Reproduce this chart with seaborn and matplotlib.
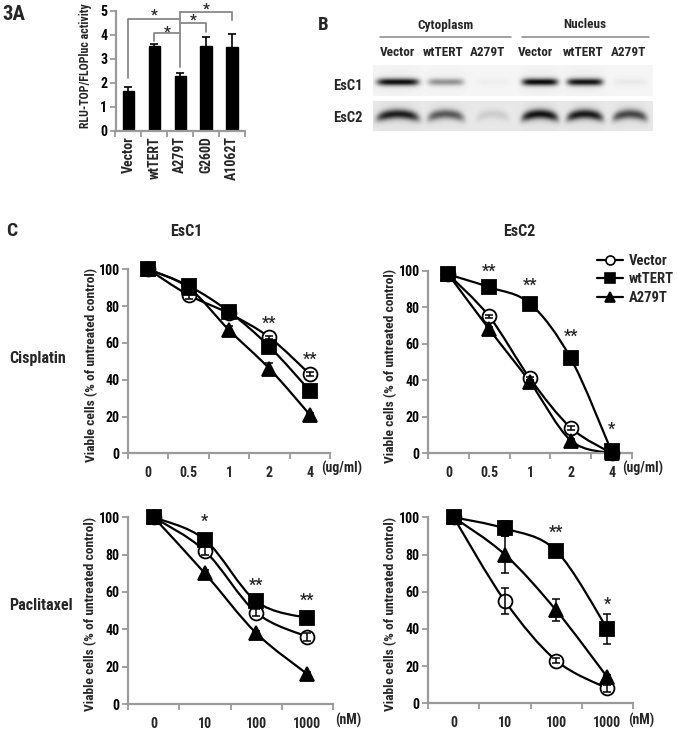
import numpy as np
import pandas as pd
import matplotlib
matplotlib.use("Agg")
import matplotlib.pyplot as plt
import seaborn as sns
from matplotlib.lines import Line2D
from matplotlib.path import Path
from matplotlib.patches import PathPatch
from matplotlib import font_manager as fm

# ---------------- data ----------------
# Panel A
a_groups = ["Vector", "wtTERT", "A279T", "G260D", "A1062T"]
a_values = [1.65, 3.52, 2.27, 3.52, 3.50]
a_errors = [0.17, 0.11, 0.12, 0.38, 0.53]

# Panel B (western blot band intensities, 0..1)
blot_lanes = ["Vector", "wtTERT", "A279T", "Vector", "wtTERT", "A279T"]
blot_fractions = ["Cytoplasm", "Nucleus"]
blot_rows = ["EsC1", "EsC2"]
esc1_bands = [0.95, 0.40, 0.03, 0.97, 0.93, 0.05]
esc2_bands = [0.88, 0.62, 0.12, 0.93, 0.90, 0.70]

# Panel C
series_names = ["Vector", "wtTERT", "A279T"]
cis_doses = ["0", "0.5", "1", "2", "4"]
pac_doses = ["0", "10", "100", "1000"]

cis_esc1_vector = [100, 86, 76, 63, 43]
cis_esc1_wttert = [100, 91, 77, 58, 34]
cis_esc1_a279t = [100, 90, 67, 46, 21]
cis_esc1_vector_err = [0, 2, 1, 1, 1]
cis_esc1_wttert_err = [0, 1, 1, 2, 1]
cis_esc1_a279t_err = [0, 1, 2, 3, 1]

cis_esc2_vector = [98, 75, 41, 14, 0]
cis_esc2_wttert = [98, 91, 82, 52, 1]
cis_esc2_a279t = [98, 68, 39, 7, 0]
cis_esc2_vector_err = [0, 1, 1, 1, 0]
cis_esc2_wttert_err = [0, 1, 1, 1, 0]
cis_esc2_a279t_err = [0, 1, 1, 1, 0]

pac_esc1_vector = [100, 82, 49, 36]
pac_esc1_wttert = [100, 88, 55, 46]
pac_esc1_a279t = [100, 70, 38, 16]
pac_esc1_vector_err = [0, 2, 2, 2]
pac_esc1_wttert_err = [0, 1, 1, 1]
pac_esc1_a279t_err = [0, 2, 1, 1]

pac_esc2_vector = [100, 55, 23, 8]
pac_esc2_wttert = [100, 94, 82, 40]
pac_esc2_a279t = [100, 80, 50, 14]
pac_esc2_vector_err = [0, 7, 1.5, 2]
pac_esc2_wttert_err = [0, 4, 1, 8]
pac_esc2_a279t_err = [0, 10, 6, 1]

# significance marks: (category index, value, text)
cis_esc1_sig = [(3, 73, "**"), (4, 53, "**")]
cis_esc2_sig = [(1, 102, "**"), (2, 94, "**"), (3, 66, "**"), (4, 15, "*")]
pac_esc1_sig = [(1, 100, "*"), (2, 65.5, "**"), (3, 57.5, "**")]
pac_esc2_sig = [(2, 94, "**"), (3, 55.5, "*")]

# ---------------- style ----------------
sns.set_theme(style="ticks")

# pick a condensed bold sans if one is installed
fam = "Liberation Sans"
stretch = "normal"
narrow = False
names = {f.name for f in fm.fontManager.ttflist}
for cand in ["Liberation Sans Narrow", "Arial Narrow", "Roboto Condensed",
             "Open Sans Condensed", "Noto Sans Condensed", "DejaVu Sans Condensed"]:
    if cand in names:
        fam = cand
        narrow = True
        break
if not narrow:
    for f in fm.fontManager.ttflist:
        st = f.stretch
        if isinstance(st, str):
            st = {"condensed": 300, "semi-condensed": 400, "extra-condensed": 200}.get(st, 500)
        if f.name in ("Noto Sans", "Open Sans", "Roboto", "DejaVu Sans") and st <= 400:
            fam = f.name
            stretch = "condensed"
            narrow = True
            break

plt.rcParams["font.family"] = [fam, "Liberation Sans", "DejaVu Sans"]
plt.rcParams["font.stretch"] = stretch
plt.rcParams["font.weight"] = "bold"
plt.rcParams["axes.labelweight"] = "bold"
S = 1.0 if narrow else 0.86  # size factor to keep text widths like the reference

W, H = 677, 729
fig = plt.figure(figsize=(W / 100, H / 100), dpi=100)
fig.patch.set_facecolor("white")


def fx(px):
    return px / W


def fy(py):
    return 1 - py / H


GRAY = "#9a9a9a"


def style_axes(ax, n):
    for s in ["top", "right"]:
        ax.spines[s].set_visible(False)
    for s in ["left", "bottom"]:
        ax.spines[s].set_color(GRAY)
        ax.spines[s].set_linewidth(1.6)
    ax.set_xlim(-0.5, n - 0.5)
    ax.set_xticks(np.arange(n))
    ax.set_xticks(np.arange(-0.5, n), minor=True)
    ax.tick_params(axis="x", which="major", length=0)
    ax.tick_params(axis="x", which="minor", length=4, width=1.3, color=GRAY, direction="out")
    ax.tick_params(axis="y", which="major", length=4, width=1.3, color=GRAY, direction="out",
                   pad=2, left=True, labelleft=True, labelcolor="black")
    ax.set_facecolor("white")


# ---------------- Panel A ----------------
axA = fig.add_axes([fx(115.5), fy(130.5), (245 - 115.5) / W, (130.5 - 11) / H])
dfA = pd.DataFrame({"group": a_groups, "value": a_values})
sns.barplot(data=dfA, x="group", y="value", ax=axA, color="black", width=0.44,
            errorbar=None, saturation=1, edgecolor="black")
axA.errorbar(np.arange(len(a_groups)), a_values, yerr=a_errors, fmt="none",
             ecolor="black", elinewidth=1.2, capsize=3, capthick=1.2)
style_axes(axA, len(a_groups))
axA.set_ylim(0, 5)
axA.set_yticks(range(0, 6), labels=[str(v) for v in range(0, 6)],
               fontsize=10 * S, fontweight="bold")
axA.set_xticks(np.arange(len(a_groups)), labels=a_groups, rotation=90,
               fontsize=10 * S, fontweight="bold")
axA.tick_params(axis="x", which="major", pad=4)
axA.set_xlabel("")
axA.set_ylabel("RLU-TOP/FLOPluc activity", fontsize=8.6 * S, fontweight="bold")
axA.yaxis.set_label_coords(-0.18, 0.54)

# significance brackets (group index pairs and heights)
br_kw = dict(color="#888888", lw=1.3, clip_on=False)
axA.plot([0, 0, 2], [2.18, 4.66, 4.66], **br_kw)
axA.plot([2, 2], [2.64, 4.94], **br_kw)
axA.plot([1, 1, 2], [3.75, 4.06, 4.06], **br_kw)
axA.plot([2, 3, 3], [4.48, 4.48, 4.14], **br_kw)
axA.plot([2, 4, 4], [4.94, 4.94, 4.64], **br_kw)
for xs_, ys_ in [(1.0, 4.94), (1.5, 4.26), (2.5, 4.73), (3.0, 5.22)]:
    axA.annotate("*", xy=(xs_, ys_), xytext=(0, -5.5), textcoords="offset points",
                 ha="center", va="baseline", fontsize=11, fontweight="bold",
                 annotation_clip=False)

fig.text(fx(2), fy(15), "3A", fontsize=15 * S, fontweight="bold", ha="left", va="center")

# ---------------- Panel B (blot) ----------------
fig.text(fx(323), fy(25), "B", fontsize=13.5, fontweight="bold", ha="center", va="center")
frac_centers = [445, 585]
frac_spans = [(380, 511), (522, 649)]
for name, c, (a, b) in zip(blot_fractions, frac_centers, frac_spans):
    fig.text(fx(c), fy(25), name, fontsize=9.5 * S, fontweight="bold", ha="center", va="center")
    fig.add_artist(Line2D([fx(a), fx(b)], [fy(37), fy(37)], color="#888888", lw=1.1))
lane_label_x = [397, 443, 488, 535, 583, 629]
for name, lx in zip(blot_lanes, lane_label_x):
    fig.text(fx(lx), fy(52), name, fontsize=9.5 * S, fontweight="bold", ha="center", va="center")
for name, ly in zip(blot_rows, [86, 118]):
    fig.text(fx(348), fy(ly), name, fontsize=10.5 * S, fontweight="bold", ha="center", va="center")

axB = fig.add_axes([fx(373), fy(131), (653 - 373) / W, (131 - 64) / H])
axB.set_xlim(373, 653)
axB.set_ylim(131, 64)
axB.axis("off")
lane_centers = [398, 446, 493, 540, 585, 630]
lane_halfw = [21, 18, 16, 18, 18, 17]
xs = np.arange(373, 653) + 0.5


def blot_row(bands, y0, y1, yc, thick, bg, curve):
    ys = np.arange(y0, y1) + 0.5
    X, Y = np.meshgrid(xs, ys)
    img = np.full(X.shape, bg)
    for c, hw, inten in zip(lane_centers, lane_halfw, bands):
        u = (X - c) / hw
        horiz = np.exp(-np.abs(u) ** 6)
        center = yc + curve * u ** 2
        vert = np.exp(-((Y - center) / thick) ** 2)
        img = img - inten * horiz * vert * (bg - 0.06)
        img = img - 0.05 * inten * np.exp(-np.abs(u) ** 4) * np.exp(-((Y - center) / (thick * 3)) ** 2)
    return np.clip(img, 0, 1)


row1 = blot_row(esc1_bands, 65, 96, 82, 3.6, 0.96, 0.0)
row2 = blot_row(esc2_bands, 101, 131, 114, 4.8, 0.91, 4.0)
axB.imshow(row1, cmap="gray", vmin=0, vmax=1, extent=[373, 653, 96, 65], aspect="auto",
           interpolation="bilinear")
axB.imshow(row2, cmap="gray", vmin=0, vmax=1, extent=[373, 653, 131, 101], aspect="auto",
           interpolation="bilinear")

# ---------------- Panel C ----------------
fig.text(fx(12), fy(231), "C", fontsize=14, fontweight="bold", ha="center", va="center")
fig.text(fx(186), fy(232), "EsC1", fontsize=11.5 * S, fontweight="bold", ha="center", va="center")
fig.text(fx(519), fy(232), "EsC2", fontsize=11.5 * S, fontweight="bold", ha="center", va="center")
fig.text(fx(9), fy(358), "Cisplatin", fontsize=11.5 * S, fontweight="bold", ha="left", va="center")
fig.text(fx(9), fy(606), "Paclitaxel", fontsize=11.5 * S, fontweight="bold", ha="left", va="center")

marker_styles = {
    "Vector": dict(marker="o", markerfacecolor="white"),
    "wtTERT": dict(marker="s", markerfacecolor="black"),
    "A279T": dict(marker="^", markerfacecolor="black"),
}
draw_order = ["Vector", "A279T", "wtTERT"]


def smooth_path(x, y):
    """Excel-style smoothed connector: cubic Bezier segments through the data points."""
    p = np.column_stack([x, y]).astype(float)
    ext = np.vstack([p[0], p, p[-1]])
    verts = [tuple(p[0])]
    codes = [Path.MOVETO]
    for i in range(len(p) - 1):
        p0, p1, p2, p3 = ext[i], ext[i + 1], ext[i + 2], ext[i + 3]
        c1 = p1 + (p2 - p0) / 6.0
        c2 = p2 - (p3 - p1) / 6.0
        verts += [tuple(c1), tuple(c2), tuple(p2)]
        codes += [Path.CURVE4] * 3
    return Path(verts, codes)


def line_panel(rect, doses, vals, errs, sig, unit, unit_px):
    ax = fig.add_axes(rect)
    n = len(doses)
    x = np.arange(n)
    for k, name in enumerate(draw_order):
        ms = marker_styles[name]
        ax.add_patch(PathPatch(smooth_path(x, vals[name]), facecolor="none", edgecolor="black",
                               lw=1.6, clip_on=False, zorder=2 + k * 0.1))
        sns.lineplot(x=x, y=vals[name], ax=ax, color="black", linestyle="none",
                     marker=ms["marker"], markersize=10 if ms["marker"] != "^" else 10.5,
                     markerfacecolor=ms["markerfacecolor"], markeredgecolor="black",
                     markeredgewidth=1.3, clip_on=False, errorbar=None, sort=False,
                     zorder=3 + k * 0.1)
        ax.errorbar(x, vals[name], yerr=errs[name], fmt="none", ecolor="black",
                    elinewidth=1.1, capsize=3, capthick=1.1, clip_on=False, zorder=3.5)
    style_axes(ax, n)
    ax.set_ylim(0, 100)
    ax.set_yticks(range(0, 101, 20), labels=[str(v) for v in range(0, 101, 20)],
                  fontsize=10 * S, fontweight="bold")
    ax.set_xticks(x, labels=doses, fontsize=10 * S, fontweight="bold")
    ax.tick_params(axis="x", which="major", pad=9)
    ax.set_xlabel("")
    ax.set_ylabel("Viable cells (% of untreated control)", fontsize=9.7 * S, fontweight="bold")
    ax.yaxis.set_label_coords(-0.15, 0.48)
    for xi, yv, s in sig:
        ax.annotate(s, xy=(xi, yv), xytext=(0, -6), textcoords="offset points",
                    ha="center", va="baseline", fontsize=11.5, fontweight="bold",
                    annotation_clip=False)
    fig.text(fx(unit_px[0]), fy(unit_px[1]), unit, fontsize=10 * S, fontweight="bold",
             ha="center", va="center")
    return ax


ax1 = line_panel([fx(128), fy(453.3), (330 - 128) / W, (453.3 - 269.3) / H], cis_doses,
                 {"Vector": cis_esc1_vector, "wtTERT": cis_esc1_wttert, "A279T": cis_esc1_a279t},
                 {"Vector": cis_esc1_vector_err, "wtTERT": cis_esc1_wttert_err, "A279T": cis_esc1_a279t_err},
                 cis_esc1_sig, "(ug/ml)", (342, 468))
ax2 = line_panel([fx(428), fy(453.3), (632 - 428) / W, (453.3 - 270.8) / H], cis_doses,
                 {"Vector": cis_esc2_vector, "wtTERT": cis_esc2_wttert, "A279T": cis_esc2_a279t},
                 {"Vector": cis_esc2_vector_err, "wtTERT": cis_esc2_wttert_err, "A279T": cis_esc2_a279t_err},
                 cis_esc2_sig, "(ug/ml)", (643, 468))
ax3 = line_panel([fx(128), fy(704), (333 - 128) / W, (704 - 517.3) / H], pac_doses,
                 {"Vector": pac_esc1_vector, "wtTERT": pac_esc1_wttert, "A279T": pac_esc1_a279t},
                 {"Vector": pac_esc1_vector_err, "wtTERT": pac_esc1_wttert_err, "A279T": pac_esc1_a279t_err},
                 pac_esc1_sig, "(nM)", (348, 720))
ax4 = line_panel([fx(428), fy(703.3), (633 - 428) / W, (703.3 - 517.3) / H], pac_doses,
                 {"Vector": pac_esc2_vector, "wtTERT": pac_esc2_wttert, "A279T": pac_esc2_a279t},
                 {"Vector": pac_esc2_vector_err, "wtTERT": pac_esc2_wttert_err, "A279T": pac_esc2_a279t_err},
                 pac_esc2_sig, "(nM)", (641, 720))

handles = [Line2D([0], [0], color="black", lw=1.6, marker=marker_styles[n]["marker"],
                  markerfacecolor=marker_styles[n]["markerfacecolor"], markeredgecolor="black",
                  markeredgewidth=1.2, markersize=6.5) for n in series_names]
fig.legend(handles, series_names, loc="upper left", bbox_to_anchor=(fx(597), fy(254)),
           frameon=False, handlelength=1.8, handletextpad=0.4,
           labelspacing=0.3, borderaxespad=0, borderpad=0,
           prop={"weight": "bold", "size": 10.5 * S})

fig.savefig("out.png", dpi=100, facecolor="white")
